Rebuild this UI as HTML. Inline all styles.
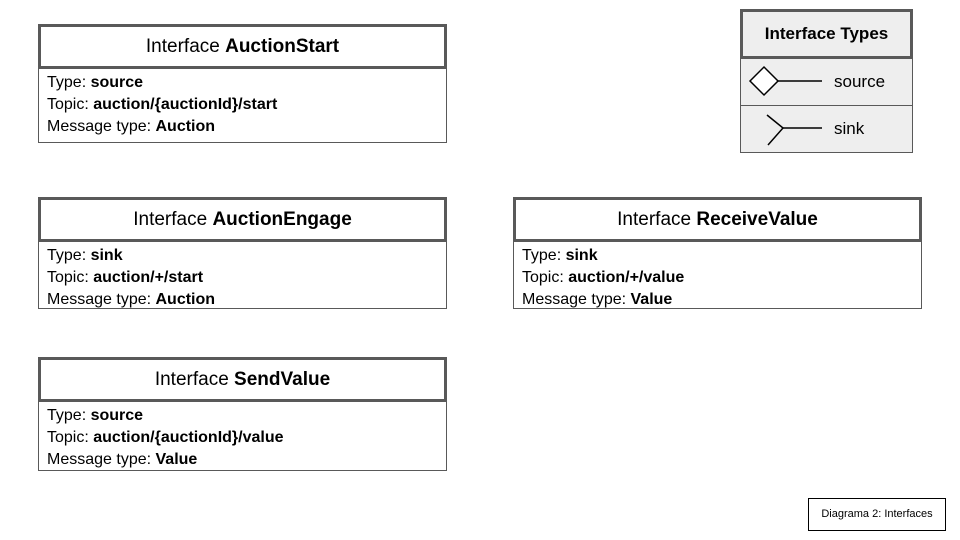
<!DOCTYPE html>
<html><head><style>
body{margin:0;width:960px;height:540px;background:#fff;position:relative;font-family:"Liberation Sans",Arial,sans-serif;color:#000;overflow:hidden}
.box{position:absolute;width:409px}
.hd{box-sizing:border-box;height:45px;border:3px solid #595959;text-align:center;font-size:19px;line-height:39px;background:#fff}
.bd{box-sizing:border-box;height:74px;border:1px solid #595959;border-top:none;padding:3px 0 0 8px;font-size:16px;line-height:22px}
b{font-weight:bold}
</style></head><body>
<div class="box" style="left:38px;top:24px"><div class="hd">Interface <b>AuctionStart</b></div><div class="bd">Type: <b>source</b><br>Topic: <b>auction/{auctionId}/start</b><br>Message type: <b>Auction</b></div></div>
<div class="box" style="left:38px;top:197px"><div class="hd">Interface <b>AuctionEngage</b></div><div class="bd" style="height:67px">Type: <b>sink</b><br>Topic: <b>auction/+/start</b><br>Message type: <b>Auction</b></div></div>
<div class="box" style="left:513px;top:197px"><div class="hd">Interface <b>ReceiveValue</b></div><div class="bd" style="height:67px">Type: <b>sink</b><br>Topic: <b>auction/+/value</b><br>Message type: <b>Value</b></div></div>
<div class="box" style="left:38px;top:357px"><div class="hd">Interface <b>SendValue</b></div><div class="bd" style="height:69px">Type: <b>source</b><br>Topic: <b>auction/{auctionId}/value</b><br>Message type: <b>Value</b></div></div>

<div style="position:absolute;left:740px;top:9px;width:173px;height:144px;background:#eee;box-sizing:border-box;border:1px solid #595959"></div>
<div style="position:absolute;left:740px;top:9px;width:173px;height:50px;box-sizing:border-box;border:3px solid #595959;background:#eee;text-align:center;font-weight:bold;font-size:17px;line-height:44px">Interface Types</div>
<div style="position:absolute;left:740px;top:105px;width:173px;height:1px;background:#595959"></div>
<svg style="position:absolute;left:740px;top:59px" width="173" height="94">
<polygon points="10,22 24,8 38,22 24,36" fill="#fff" stroke="#000" stroke-width="1.5"/>
<line x1="38" y1="22" x2="82" y2="22" stroke="#000" stroke-width="1.5"/>
<polyline points="27,56 43,69 28,86" fill="none" stroke="#000" stroke-width="1.5"/>
<line x1="43" y1="69" x2="82" y2="69" stroke="#000" stroke-width="1.5"/>
<text x="94" y="28" font-size="17" font-family="Liberation Sans,sans-serif">source</text>
<text x="94" y="75" font-size="17" font-family="Liberation Sans,sans-serif">sink</text>
</svg>
<div style="position:absolute;left:808px;top:498px;width:138px;height:33px;box-sizing:border-box;border:1px solid #000;font-size:11px;line-height:31px;text-align:center">Diagrama 2: Interfaces</div>
</body></html>
